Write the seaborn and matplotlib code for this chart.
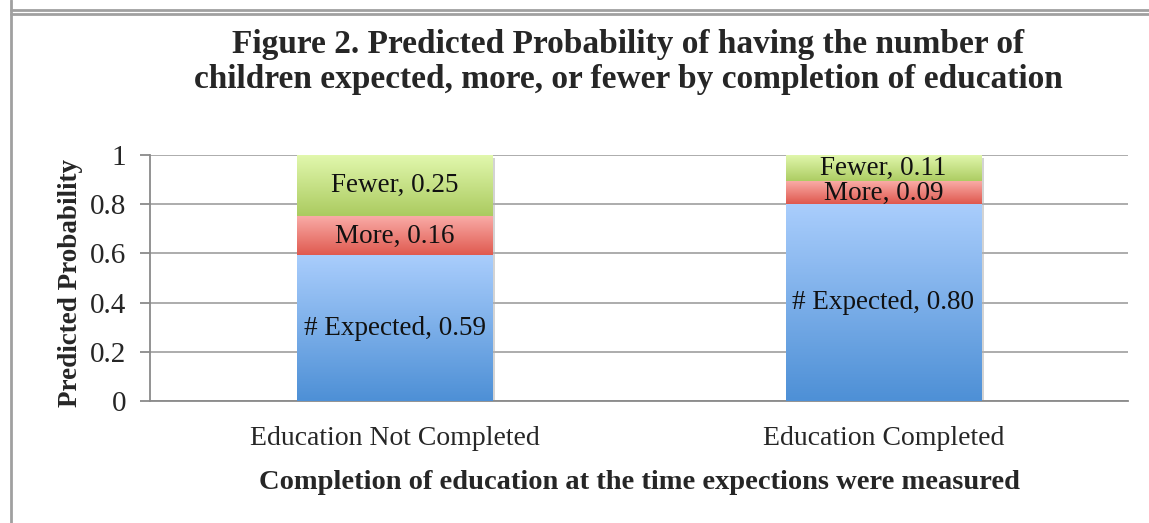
import numpy as np
import pandas as pd
import seaborn as sns
import matplotlib.pyplot as plt
import matplotlib.transforms as mtransforms
from matplotlib.colors import LinearSegmentedColormap
from matplotlib.patches import Rectangle
from matplotlib.lines import Line2D

# data
groups = ['Education Not Completed', 'Education Completed']
expected = [0.59, 0.80]
more = [0.16, 0.09]
fewer = [0.25, 0.11]
series_names = ['# Expected', 'More', 'Fewer']
ytick_vals = [0, 0.2, 0.4, 0.6, 0.8, 1.0]
ytick_labels = ['0', '0.2', '0.4', '0.6', '0.8', '1']

title = ('Figure 2. Predicted Probability of having the number of\n'
         'children expected, more, or fewer by completion of education')
xlabel = 'Completion of education at the time expections were measured'
ylabel = 'Predicted Probability'

# gradient colours (top, bottom) per series
grad = {
    '# Expected': ('#a9cdfc', '#4e90d6'),
    'More': ('#f9aba6', '#df584e'),
    'Fewer': ('#e2f8ae', '#abcb60'),
}

sns.set_style('white')
plt.rcParams['font.family'] = ['Liberation Serif', 'DejaVu Serif']

df = pd.DataFrame({'group': groups, '# Expected': expected, 'More': more, 'Fewer': fewer})
df['cum1'] = df['# Expected']
df['cum2'] = df['cum1'] + df['More']
df['cum3'] = df['cum2'] + df['Fewer']

fig = plt.figure(figsize=(11.49, 5.23), dpi=100)
ax = fig.add_axes([150 / 1149, 122 / 523, 978 / 1149, 246 / 523])

# stacked bars: draw cumulative totals, largest first
layers = [('cum3', 'Fewer', 'cum2'), ('cum2', 'More', 'cum1'), ('cum1', '# Expected', None)]
shadow_done = False
for z, (col, name, below) in enumerate(layers):
    n_before = len(ax.patches)
    sns.barplot(data=df, x='group', y=col, width=0.4, color=grad[name][1],
                ax=ax, zorder=3 + z, linewidth=0)
    for i, p in enumerate(ax.patches[n_before:]):
        x0, w = p.get_x(), p.get_width()
        top = p.get_height()
        bot = df[below].iloc[i] if below else 0.0
        cmap = LinearSegmentedColormap.from_list(name, [grad[name][1], grad[name][0]])
        img = np.linspace(0, 1, 100).reshape(-1, 1)
        ax.imshow(img, cmap=cmap, origin='lower', aspect='auto',
                  extent=[x0, x0 + w, bot, top], zorder=3.5 + z)
        # soft shadow under each whole bar
        if not shadow_done:
            off = mtransforms.offset_copy(ax.transData, fig=fig, x=2.5, y=-2.5, units='dots')
            ax.add_patch(Rectangle((x0, 0), w, top, transform=off, facecolor='#b0b0b0',
                                   alpha=0.55, edgecolor='none', zorder=2.5))
    shadow_done = True

# labels inside each segment
for i in range(len(groups)):
    bot = 0.0
    for name in series_names:
        v = df[name].iloc[i]
        ax.text(i, bot + v / 2, f'{name}, {v:.2f}', ha='center', va='center',
                fontsize=19.5, color='#111111', zorder=10)
        bot += v

ax.set_xlim(-0.5, 1.5)
ax.set_ylim(0, 1.0)
ax.set_yticks(ytick_vals)
ax.set_yticklabels(ytick_labels, fontsize=21)
ax.set_xticks([0, 1])
ax.set_xticklabels(groups, fontsize=20)
ax.set_xticks([-0.5, 0.5, 1.5], minor=True)
ax.tick_params(axis='x', which='major', length=0, pad=18)
ax.tick_params(axis='x', which='minor', length=7, width=1.3, color='#8a8a8a', direction='out')
ax.tick_params(axis='y', length=7, width=1.3, color='#8a8a8a', direction='out', pad=10, left=True)
ax.grid(axis='y', color='#a6a6a6', linewidth=1.3, zorder=1)
ax.set_axisbelow(True)
for s in ['top', 'right']:
    ax.spines[s].set_visible(False)
for s in ['left', 'bottom']:
    ax.spines[s].set_color('#8a8a8a')
    ax.spines[s].set_linewidth(1.3)

ax.set_xlabel(xlabel, fontsize=20.5, fontweight='bold', va='center')
ax.xaxis.set_label_coords(0.501, -0.33)
ax.set_ylabel(ylabel, fontsize=19.5, fontweight='bold', va='center')
ax.yaxis.set_label_coords(-0.081, 0.48)
fig.text(628 / 1149, 1 - 62 / 523, title, ha='center', va='center',
         fontsize=24, fontweight='bold', linespacing=1.2)

# page frame lines
frame_kw = dict(color='#a0a0a0', linewidth=2, transform=fig.transFigure)
fig.add_artist(Line2D([11 / 1149, 11 / 1149], [0, 1], **frame_kw))
fig.add_artist(Line2D([11 / 1149, 1], [1 - 9.5 / 523, 1 - 9.5 / 523], **frame_kw))
fig.add_artist(Line2D([11 / 1149, 1], [1 - 13.5 / 523, 1 - 13.5 / 523], **frame_kw))

fig.savefig('out.png', dpi=100)
